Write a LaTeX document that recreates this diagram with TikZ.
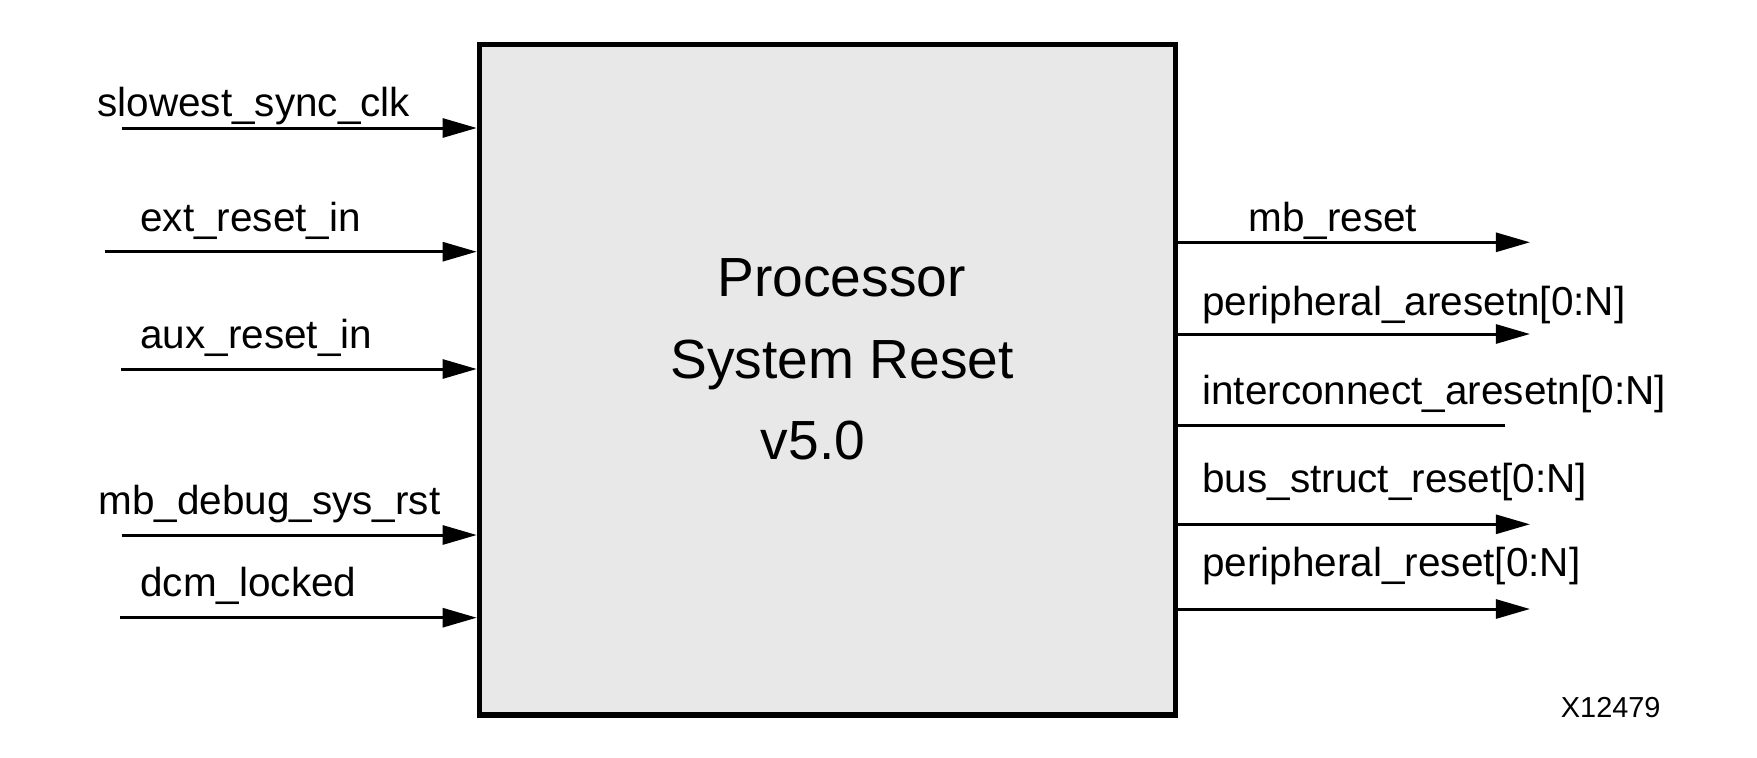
\documentclass[tikz,border=0pt]{standalone}
\usepackage{fontspec}
\setmainfont{Liberation Sans}
\usepackage{tikz}
\usetikzlibrary{arrows.meta, calc, positioning}
\definecolor{Ink}{HTML}{000000}
\definecolor{BlockFill}{HTML}{E8E8E8}
\tikzset{
  block/.style={draw=Ink, fill=BlockFill, line width=2.5pt, inner sep=0pt,
    minimum width=312.9pt, minimum height=301.5pt},
  wire/.style={line width=1.35pt, color=Ink},
  signal/.style={wire, -{Triangle[length=15.3pt, width=8.5pt]}},
  port/.style={color=Ink, inner sep=0pt, anchor=base west, font=\fontsize{18.2}{21}\selectfont},
  title/.style={color=Ink, inner sep=0pt, anchor=base, font=\fontsize{24.8}{28}\selectfont},
  partno/.style={color=Ink, inner sep=0pt, anchor=base east, font=\fontsize{13}{15}\selectfont},
}

\begin{document}
\begin{tikzpicture}[x=0.44963pt, y=-0.44963pt]
  \useasboundingbox (0,0) rectangle (1757,757);

  % Core block
  \node[block] (psr) at (827.5,379.8) {};
  \node[title] (ttlA) at (841.5,296) {Processor};
  \node[title] (ttlB) at (842,378.3) {System Reset};
  \node[title, anchor=base west] (ttlC) at (760.5,459) {v5.0};

  % Inputs
  \coordinate (clkin) at (121.7,128);
  \coordinate (extin) at (105,251.7);
  \coordinate (auxin) at (121,369);
  \coordinate (dbgin) at (121.7,535);
  \coordinate (dcmin) at (120,617.7);

  \node[port] (lclk) at (97,116.7) {slowest\_sync\_clk};
  \node[port] (lext) at (140,231.7) {ext\_reset\_in};
  \node[port] (laux) at (140,348) {aux\_reset\_in};
  \node[port] (ldbg) at (98,514) {mb\_debug\_sys\_rst};
  \node[port] (ldcm) at (140,596.7) {dcm\_locked};

  \draw[signal] (clkin) -- (clkin -| psr.west);
  \draw[signal] (extin) -- (extin -| psr.west);
  \draw[signal] (auxin) -- (auxin -| psr.west);
  \draw[signal] (dbgin) -- (dbgin -| psr.west);
  \draw[signal] (dcmin) -- (dcmin -| psr.west);

  % Outputs
  \coordinate (mbout) at (1530,242.3);
  \coordinate (paout) at (1530,334);
  \coordinate (icout) at (1505,425);
  \coordinate (bsout) at (1530,524.3);
  \coordinate (prout) at (1530,609);

  \node[port] (lmb) at (1248,231.7) {mb\_reset};
  \node[port] (lpa) at (1202,315) {peripheral\_aresetn[0:N]};
  \node[port] (lic) at (1202,404) {interconnect\_aresetn[0:N]};
  \node[port] (lbs) at (1202,492) {bus\_struct\_reset[0:N]};
  \node[port] (lpr) at (1202,576.7) {peripheral\_reset[0:N]};

  \draw[signal] (mbout -| psr.east) -- (mbout);
  \draw[signal] (paout -| psr.east) -- (paout);
  \draw[wire] (icout -| psr.east) -- (icout);
  \draw[signal] (bsout -| psr.east) -- (bsout);
  \draw[signal] (prout -| psr.east) -- (prout);

  % Figure number
  \node[partno] (fig) at (1661,717) {X12479};
\end{tikzpicture}
\end{document}
